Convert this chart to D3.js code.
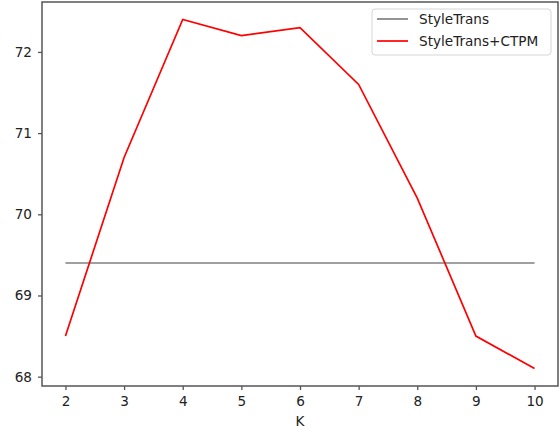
<!DOCTYPE html>
<html>
<head>
<meta charset="utf-8">
<script src="https://cdn.jsdelivr.net/npm/d3@7"></script>
<style>
  body { margin: 0; background: #fff; }
  text { font-family: "DejaVu Sans", sans-serif; }
</style>
</head>
<body>
<div id="chart"></div>
<script>
const kValues = [2, 3, 4, 5, 6, 7, 8, 9, 10];
const baseline = [69.4, 69.4, 69.4, 69.4, 69.4, 69.4, 69.4, 69.4, 69.4];
const ctpm = [68.5, 70.7, 72.4, 72.2, 72.3, 71.6, 70.2, 68.5, 68.1];
const yTicks = [68, 69, 70, 71, 72];
const seriesNames = ["StyleTrans", "StyleTrans+CTPM"];
const seriesColors = ["#808080", "#ff0000"];

const chart = {};
chart.margin = { top: 2, right: 2, bottom: 43, left: 42 };
chart.width = 560 - chart.margin.left - chart.margin.right;
chart.height = 429 - chart.margin.top - chart.margin.bottom;

const svg = d3.select("#chart")
    .append("svg")
    .attr("width", 560)
    .attr("height", 429)
    .append("g")
    .attr("transform", "translate(" + chart.margin.left + "," + chart.margin.top + ")");

// matplotlib style 5% padding on both axes
const xPad = (d3.max(kValues) - d3.min(kValues)) * 0.05;
const x = d3.scaleLinear()
    .domain([d3.min(kValues) - xPad, d3.max(kValues) + xPad])
    .range([0, chart.width]);

const allY = baseline.concat(ctpm);
const yPad = (d3.max(allY) - d3.min(allY)) * 0.05;
const y = d3.scaleLinear()
    .domain([d3.min(allY) - yPad, d3.max(allY) + yPad])
    .range([chart.height, 0]);

const axisColor = "#555";

const xAxis = svg.append("g")
    .attr("transform", `translate(0, ${chart.height})`)
    .call(d3.axisBottom(x).tickValues(kValues).tickSize(4).tickPadding(6).tickFormat(d3.format("d")));
const yAxis = svg.append("g")
    .call(d3.axisLeft(y).tickValues(yTicks).tickSize(4).tickPadding(6).tickFormat(d3.format("d")));

[xAxis, yAxis].forEach(a => {
    a.select(".domain").remove();
    a.selectAll("line").attr("stroke", axisColor).attr("stroke-width", 1.3);
    a.selectAll("text").attr("fill", "#222").style("font-size", "13.6px");
});

// frame
svg.append("rect")
    .attr("x", 0).attr("y", 0)
    .attr("width", chart.width).attr("height", chart.height)
    .attr("fill", "none")
    .attr("stroke", axisColor)
    .attr("stroke-width", 1.5);

svg.append("text")
    .attr("x", chart.width / 2)
    .attr("y", chart.height + 40)
    .attr("text-anchor", "middle")
    .style("font-size", "13.6px")
    .attr("fill", "#222")
    .text("K");

const line = d3.line()
    .x((d, i) => x(kValues[i]))
    .y(d => y(d));

[baseline, ctpm].forEach((s, i) => {
    svg.append("path")
        .datum(s)
        .attr("fill", "none")
        .attr("stroke", seriesColors[i])
        .attr("stroke-width", 1.7)
        .attr("d", line);
});

// legend
const legend = svg.append("g")
    .attr("transform", `translate(${372 - chart.margin.left}, ${9 - chart.margin.top})`);
legend.append("rect")
    .attr("width", 179).attr("height", 46)
    .attr("rx", 3)
    .attr("fill", "#fff")
    .attr("stroke", "#d6d6d6");
seriesNames.forEach((name, i) => {
    const yy = 10 + i * 22;
    legend.append("line")
        .attr("x1", 5).attr("x2", 36)
        .attr("y1", yy).attr("y2", yy)
        .attr("stroke", seriesColors[i])
        .attr("stroke-width", 1.7);
    legend.append("text")
        .attr("x", 47).attr("y", yy)
        .attr("dy", "0.35em")
        .style("font-size", "13.6px")
        .attr("fill", "#222")
        .text(name);
});
</script>
</body>
</html>
